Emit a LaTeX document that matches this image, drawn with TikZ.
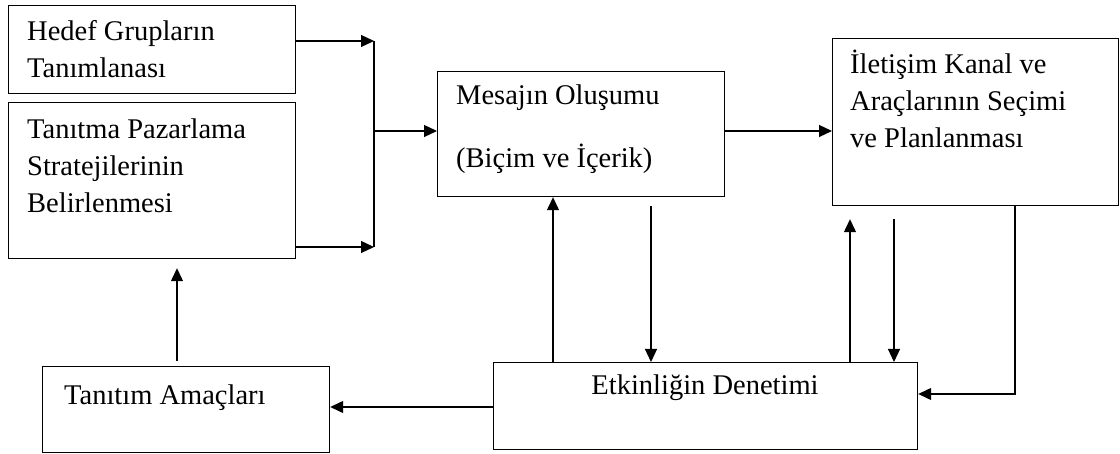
\documentclass[tikz,border=0pt]{standalone}
\usepackage{fontspec}
\setmainfont{Liberation Serif}
\usetikzlibrary{arrows.meta}
\begin{document}
\begin{tikzpicture}[x=1pt,y=-1pt,
  box/.style={draw, line width=1.2pt, inner sep=0pt, anchor=north west},
  lbl/.style={anchor=base west, inner sep=0pt, align=left,
    font=\fontsize{28.5}{37}\selectfont},
  link/.style={line width=1.2pt},
  arr/.style={link, -{Triangle[length=13pt,width=12pt]}}]
\useasboundingbox (0,0) rectangle (1120,454);

% boxes
\node[box, minimum width=287pt, minimum height=88pt]  (A) at (8,5)     {};
\node[box, minimum width=287pt, minimum height=156pt] (B) at (8,102)   {};
\node[box, minimum width=287pt, minimum height=125pt] (M) at (437,71)  {};
\node[box, minimum width=286pt, minimum height=167pt] (I) at (832,38)  {};
\node[box, minimum width=287pt, minimum height=86pt]  (T) at (42,366)  {};
\node[box, minimum width=424pt, minimum height=87pt]  (E) at (493,362) {};

% labels (a multi-line label sits on the baseline of its last line)
\node[lbl] (tA) at (27,78)  {Hedef Grupların\\Tanımlanası};
\node[lbl] (tB) at (27,213) {Tanıtma Pazarlama\\Stratejilerinin\\Belirlenmesi};
\node[lbl, font=\fontsize{28.5}{63}\selectfont] (tM) at (456,168) {Mesajın Oluşumu\\(Biçim ve İçerik)};
\node[lbl] (tI) at (850,148) {İletişim Kanal ve\\Araçlarının Seçimi\\ve Planlanması};
\node[lbl] (tT) at (64,405) {Tanıtım Amaçları};
\node[lbl, anchor=base] (tE) at (705,395) {Etkinliğin Denetimi};

% junction of the two upper left boxes
\coordinate (jt) at (374,41);
\coordinate (jb) at (374,247);
\coordinate (jm) at (374,131);
\draw[arr] (A.east |- jt) -- (jt);
\draw[arr] (B.east |- jb) -- (jb);
\draw[link] (jt) -- (jb);
\draw[arr] (jm) -- (M.west |- jm);
\draw[arr] (M.east |- jm) -- (I.west |- jm);

% feedback connectors
\coordinate (c1) at (553,0);
\coordinate (c2) at (651,0);
\coordinate (c3) at (850,0);
\coordinate (c4) at (894,0);
\coordinate (c5) at (1015,394);
\coordinate (c6) at (0,407);
\coordinate (c7) at (177,0);
\draw[arr] (E.north -| c1) -- (M.south -| c1);
\draw[arr, shorten <=9pt] (M.south -| c2) -- (E.north -| c2);
\draw[arr, shorten >=13pt] (E.north -| c3) -- (I.south -| c3);
\draw[arr, shorten <=13pt] (I.south -| c4) -- (E.north -| c4);
\draw[arr] (I.south -| c5) |- (E.east |- c5);
\draw[arr] (E.west |- c6) -- (T.east |- c6);
\draw[arr, shorten <=5pt, shorten >=9pt] (T.north -| c7) -- (B.south -| c7);
\end{tikzpicture}
\end{document}
